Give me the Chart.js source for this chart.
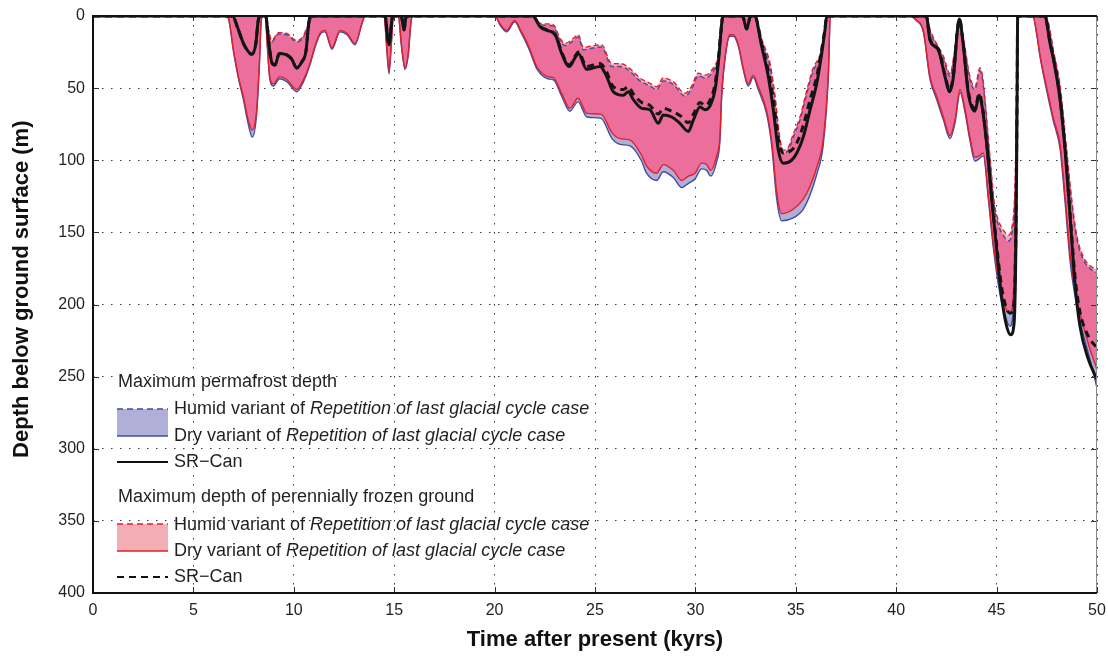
<!DOCTYPE html>
<html>
<head>
<meta charset="utf-8">
<script src="https://cdn.jsdelivr.net/npm/chart.js@4.4.1/dist/chart.umd.min.js"></script>
<style>
  html, body { margin: 0; padding: 0; background: #fff; }
  #wrap { width: 1108px; height: 660px; }
</style>
</head>
<body>
<div id="wrap"><canvas id="depthChart" width="1108" height="660"></canvas></div>
<script>
// time axis (kyrs) for the "dry" boundaries
const dryTime = [
  0, 6.6, 6.75, 7.0, 7.24, 7.49, 7.73, 7.93, 8.15, 8.28, 8.38, 8.46,
  8.58, 8.68, 8.8, 8.98, 9.3, 9.65, 10.15, 10.45, 10.8, 11.05, 11.35, 11.55, 11.9, 12.3, 12.65, 13.05, 13.4, 13.55,
  14.5, 14.62, 14.74, 14.86, 14.96, 15.2, 15.37, 15.54, 15.7, 15.83, 15.9,
  20.0, 20.3, 20.6, 21.0, 21.3, 21.7, 22.1, 22.65, 22.95, 23.35, 23.75, 24.15, 24.6, 25.3, 25.85,
  26.25, 26.75, 27.3, 27.57, 28.07, 28.4, 28.9, 29.32, 29.65, 29.98, 30.31, 30.56, 30.76, 31.06, 31.22,
  31.31, 31.52, 31.72, 31.89, 32.14, 32.38, 32.63, 32.88, 33.13, 33.55, 33.8, 34.05, 34.29, 34.87, 35.37,
  35.71, 36.04, 36.37, 36.62, 36.72,
  40.7, 41.0, 41.35, 41.68, 42.02, 42.35, 42.68, 42.93, 43.18, 43.43, 43.67, 43.92, 44.13, 44.34, 44.59,
  44.84, 45.17, 45.5, 45.67, 45.85, 45.95, 46.02, 46.08,
  46.8, 47.0, 47.16, 47.5, 47.83, 48.16, 48.41, 48.66, 48.99, 49.32, 49.65, 50
];
// perennially frozen ground, dry variant (m)
const frozenDry = [
  0, 0, 2, 24, 42, 56, 72, 79, 65, 35, 3, 0,
  0, 20, 42, 47, 42, 44, 51, 45, 33, 21, 11, 10, 22, 10, 12, 19, 5, 0,
  0, 20, 38, 18, 0, 0, 21, 36, 26, 5, 0,
  0, 6, 10, 3, 10, 21, 35, 42, 43, 54, 64, 57, 67.5, 68, 81,
  85, 86, 96, 104, 109, 103, 107, 114, 111, 109, 102, 103, 107, 97, 84,
  54, 24, 13, 13, 20, 36, 47, 41, 49, 66, 87, 122, 137, 134, 127,
  118, 105, 85, 40, 0,
  0, 3, 10, 42, 56, 70, 83, 72, 51, 65, 84, 98, 97, 95, 125,
  158, 188, 204, 206, 190, 120, 40, 0,
  0, 12, 27, 50, 71, 89, 125, 165, 196, 215, 231, 245
];
// permafrost, dry variant (m)
const permaDry = [
  0, 0, 2, 25, 43, 58, 75, 84, 68, 36, 3, 0,
  0, 21, 43, 48.5, 43.5, 45.5, 52.5, 46.5, 34, 22, 12, 11, 23, 11, 13, 20, 5, 0,
  0, 21, 40, 19, 0, 0, 22, 37, 27, 5, 0,
  0, 7, 11, 4, 11, 22.5, 36.5, 43.5, 44.5, 56, 66, 59.5, 70, 71, 85,
  89, 90, 100, 109, 114, 108, 112, 119, 116, 113, 106, 107, 111, 101, 87,
  56, 25, 14, 14, 21, 37, 48.5, 42.5, 51, 68, 90, 127, 142, 140, 134,
  124, 110, 89, 42, 0,
  0, 3, 11, 43.5, 58, 72, 85, 74, 53, 67, 86, 100.5, 99, 97, 127,
  161, 193, 211, 215, 199, 126, 42, 0,
  0, 13, 28, 52, 73, 92, 129, 170, 201, 221, 238, 258
];

// time axis (kyrs) for the "humid" boundaries
const humidTime = [
  0, 8.62, 8.75, 8.9, 9.23, 9.65, 10.14, 10.47, 10.64, 10.81, 10.9,
  21.9, 22.26, 22.6, 22.92, 23.26, 23.5, 23.8, 24.17, 24.42, 24.75, 25.33, 25.83, 26.25, 26.5,
  26.91, 27.24, 27.74, 28.07, 28.4, 28.9, 29.48, 29.8, 30.14, 30.5, 30.89, 31.14, 31.31, 31.39,
  32.95, 33.1, 33.38, 33.72, 33.96, 34.21, 34.38, 34.63, 34.87, 35.21, 35.54, 35.87, 36.2, 36.45, 36.57,
  41.5, 41.7, 41.93, 42.35, 42.68, 42.9, 43.13, 43.33, 43.67, 43.92, 44.17, 44.3, 44.64, 44.89, 45.07,
  45.42, 45.58, 45.77, 45.93, 46.0, 46.05,
  47.45, 47.6, 47.83, 48.16, 48.49, 48.74, 48.99, 49.32, 49.65, 50
];
const frozenHumid = [
  0, 0, 10, 17, 11.5, 12, 17, 14, 8.5, 4, 0,
  0, 5, 5.5, 6, 15.5, 19, 17, 13, 22, 21, 20, 33, 33, 34,
  38.6, 43, 46.7, 49, 43, 45.5, 53.6, 49, 39.7, 41, 36, 28, 10, 0,
  0, 8, 19, 33, 55, 85, 93, 91, 82, 70, 52, 36, 27, 11, 0,
  0, 10, 17, 28, 40, 25, 3, 14, 42, 49, 36, 42, 93, 130, 141,
  150, 152, 146, 111, 50, 0,
  0, 6, 24, 48, 93, 127, 152, 167, 173, 176
];
const permaHumid = [
  0, 0, 11, 18, 12.5, 13, 18, 15, 9.5, 4.5, 0,
  0, 5.5, 6.5, 7, 17, 20.5, 18.5, 14.5, 23.5, 22.5, 21.5, 35, 35, 36,
  40.5, 45, 48.5, 51, 45, 47.5, 55.5, 51, 41.5, 43, 38, 30, 11, 0,
  0, 9, 20.5, 35, 57, 87, 95, 93, 84, 72, 54, 38, 28.5, 12, 0,
  0, 11, 18.5, 30, 42, 27, 3, 15.5, 44, 51, 38, 44, 95, 133, 144,
  154, 156, 150, 114, 52, 0,
  0, 7, 25, 49.5, 95, 129, 154, 169, 175, 178
];

// SR-Can reference case
const srTime = [
  0, 6.95, 7.2, 7.49, 7.7, 7.9, 8.1, 8.23, 8.32,
  8.6, 8.75, 8.9, 9.06, 9.28, 9.65, 9.9, 10.14, 10.39, 10.61, 10.72, 10.8,
  14.55, 14.65, 14.74, 14.83, 14.92, 15.35, 15.49, 15.6,
  21.9, 22.26, 22.6, 22.84, 23.05, 23.34, 23.72, 24.0, 24.17, 24.59, 25.25, 25.55, 25.91, 26.41, 26.66,
  26.91, 27.33, 27.74, 28.15, 28.4, 28.82, 29.23, 29.65, 29.9, 30.23, 30.48, 30.7, 30.98, 31.14, 31.31, 31.36,
  32.35, 32.55, 32.75, 32.95, 33.3, 33.63, 33.88, 34.13, 34.38, 34.79, 35.05, 35.37, 35.71, 36.04, 36.29, 36.45, 36.54,
  41.5, 41.68, 42.1, 42.43, 42.65, 42.85, 43.05, 43.15, 43.33, 43.59, 43.92, 44.13, 44.25, 44.5, 44.74,
  44.99, 45.25, 45.5, 45.7, 45.87, 45.97, 46.02, 46.05,
  47.4, 47.66, 47.83, 48.16, 48.41, 48.66, 48.9, 49.15, 49.57, 50
];
const srPerma = [
  0, 0, 8, 19, 24, 26.6, 20, 3, 0,
  0, 18, 32, 34, 26, 27, 30, 36, 32, 24, 8, 0,
  0, 12, 20, 10, 0, 0, 9.7, 0,
  0, 7.4, 10, 11, 14, 26, 35, 29, 26, 37, 35, 41, 52.5, 55, 52.5,
  58, 64, 65, 74.4, 68.6, 70, 74.4, 80, 72, 63, 65, 63, 51, 33, 5, 0,
  0, 9, 0, 0, 21, 42, 65, 93, 102, 100, 95, 84, 65, 47, 26, 10, 0,
  0, 16.6, 23.6, 42, 52.5, 42, 9.7, 2, 19, 53.6, 66, 55, 60.5, 88, 125,
  160, 195, 215, 221, 213, 150, 60, 0,
  0, 19, 30, 58, 93, 139, 185, 215, 238, 252
];
const srFrozen = [
  0, 0, 8, 19, 24, 26.6, 20, 3, 0,
  0, 18, 32, 34, 26, 27, 30, 36, 32, 24, 8, 0,
  0, 12, 20, 10, 0, 0, 9.7, 0,
  0, 7, 9.5, 10.5, 13.5, 25, 34, 28, 25, 35, 33, 38, 49, 51, 49,
  54, 60, 62, 68, 64, 66, 69, 74, 68, 60, 62, 59, 47, 30, 5, 0,
  0, 9, 0, 0, 19, 38, 58, 85, 95, 93, 88, 76, 58, 42, 23, 9, 0,
  0, 16, 23, 41, 51, 41, 9, 2, 18, 52, 64, 54, 59, 87, 123,
  157, 188, 203, 206, 198, 140, 55, 0,
  0, 18, 29, 57, 92, 137, 180, 205, 222, 230
];

const xTicks = [0, 5, 10, 15, 20, 25, 30, 35, 40, 45, 50];
const yTicks = [0, 50, 100, 150, 200, 250, 300, 350, 400];

const FONT = '"Liberation Sans", Arial, Helvetica, sans-serif';
const TEXT = '#231f20';
const BLUE = '#3f4ea3';
const RED = '#e0202b';
const LAVENDER = '#b1aed8';
const LIGHTPINK = '#f4aeb5';
const HOTPINK = '#ec6f9b';

function pts(times, depths) {
    return times.map((t, i) => ({ x: t, y: depths[i] }));
}

// frame with inward tick marks, like the original axes box
const framePlugin = {
    id: 'frame',
    afterDatasetsDraw(chart) {
        const { ctx, chartArea: a, scales } = chart;
        ctx.save();
        ctx.strokeStyle = '#333';
        ctx.lineWidth = 1;
        xTicks.forEach(v => {
            const px = Math.round(scales.x.getPixelForValue(v)) + 0.5;
            ctx.beginPath();
            ctx.moveTo(px, a.bottom); ctx.lineTo(px, a.bottom - 6);
            ctx.moveTo(px, a.top); ctx.lineTo(px, a.top + 5);
            ctx.stroke();
        });
        yTicks.forEach(v => {
            const py = Math.round(scales.y.getPixelForValue(v)) + 0.5;
            ctx.beginPath();
            ctx.moveTo(a.left, py); ctx.lineTo(a.left + 6, py);
            ctx.moveTo(a.right, py); ctx.lineTo(a.right - 6, py);
            ctx.stroke();
        });
        ctx.strokeStyle = '#888';
        ctx.beginPath();
        ctx.moveTo(a.right - 0.5, a.top); ctx.lineTo(a.right - 0.5, a.bottom);
        ctx.stroke();
        ctx.strokeStyle = '#111';
        ctx.lineWidth = 2;
        ctx.beginPath();
        ctx.moveTo(a.right, a.top); ctx.lineTo(a.left, a.top);
        ctx.lineTo(a.left, a.bottom);
        ctx.lineTo(a.right, a.bottom);
        ctx.stroke();
        ctx.restore();
    }
};

// grouped legend drawn inside the plot, lower left
const legendPlugin = {
    id: 'groupLegend',
    afterDraw(chart) {
        const ctx = chart.ctx;
        const sx = chart.chartArea.left + 24;
        const sw = 51;
        const tx = sx + sw + 6;
        const normal = '18px ' + FONT;
        const italic = 'italic 18px ' + FONT;

        function label(y, plain, ital) {
            ctx.font = normal;
            ctx.fillText(plain, tx, y);
            if (ital) {
                const w = ctx.measureText(plain).width;
                ctx.font = italic;
                ctx.fillText(ital, tx + w, y);
            }
        }
        function swatch(top, bottom, fillCol, lineCol) {
            ctx.fillStyle = fillCol;
            ctx.fillRect(sx, top, sw, bottom - top);
            ctx.strokeStyle = lineCol;
            ctx.lineWidth = 1.5;
            ctx.setLineDash([6, 4]);
            ctx.beginPath(); ctx.moveTo(sx, top); ctx.lineTo(sx + sw, top); ctx.stroke();
            ctx.setLineDash([]);
            ctx.beginPath(); ctx.moveTo(sx, bottom); ctx.lineTo(sx + sw, bottom); ctx.stroke();
            ctx.fillStyle = TEXT;
        }
        function line(y, dash) {
            ctx.strokeStyle = '#111';
            ctx.lineWidth = 2;
            ctx.setLineDash(dash);
            ctx.beginPath(); ctx.moveTo(sx, y); ctx.lineTo(sx + sw, y); ctx.stroke();
            ctx.setLineDash([]);
        }

        ctx.save();
        ctx.textBaseline = 'middle';
        ctx.textAlign = 'left';
        ctx.fillStyle = TEXT;
        ctx.font = normal;
        ctx.fillText('Maximum permafrost depth', sx + 1, 382);
        swatch(409, 436, LAVENDER, BLUE);
        label(409, 'Humid variant of ', 'Repetition of last glacial cycle case');
        label(436, 'Dry variant of ', 'Repetition of last glacial cycle case');
        line(462, []);
        label(462, 'SR\u2212Can');

        ctx.font = normal;
        ctx.fillText('Maximum depth of perennially frozen ground', sx + 1, 497);
        swatch(524, 551, LIGHTPINK, RED);
        label(525, 'Humid variant of ', 'Repetition of last glacial cycle case');
        label(551, 'Dry variant of ', 'Repetition of last glacial cycle case');
        line(577, [7, 5]);
        label(577, 'SR\u2212Can');
        ctx.restore();
    }
};

const lineBase = {
    pointRadius: 0,
    pointHoverRadius: 0,
    cubicInterpolationMode: 'monotone',
    borderJoinStyle: 'round'
};

// index 0 is drawn on top; fills of later datasets go underneath
const datasets = [
    { ...lineBase, label: 'SR-Can permafrost', data: pts(srTime, srPerma), borderColor: '#141414', borderWidth: 3, fill: false },
    { ...lineBase, label: 'SR-Can frozen ground', data: pts(srTime, srFrozen), borderColor: '#141414', borderWidth: 3, borderDash: [7, 5], fill: false },
    { ...lineBase, label: 'overlap', data: pts(humidTime, permaHumid), borderColor: 'rgba(0,0,0,0)', borderWidth: 0, fill: 4, backgroundColor: HOTPINK },
    { ...lineBase, label: 'Frozen humid', data: pts(humidTime, frozenHumid), borderColor: RED, borderWidth: 1.4, borderDash: [5, 3], fill: 4, backgroundColor: LIGHTPINK },
    { ...lineBase, label: 'Frozen dry', data: pts(dryTime, frozenDry), borderColor: RED, borderWidth: 1.4, fill: false },
    { ...lineBase, label: 'Permafrost humid', data: pts(humidTime, permaHumid), borderColor: BLUE, borderWidth: 1.4, borderDash: [5, 3], fill: 6, backgroundColor: LAVENDER },
    { ...lineBase, label: 'Permafrost dry', data: pts(dryTime, permaDry), borderColor: BLUE, borderWidth: 1.4, fill: false }
];

const tickFont = { family: FONT, size: 16 };
const titleFont = { family: FONT, size: 22, weight: 'bold' };

new Chart(document.getElementById('depthChart').getContext('2d'), {
    type: 'line',
    data: { datasets: datasets },
    options: {
        responsive: false,
        animation: false,
        devicePixelRatio: 1,
        layout: { padding: { left: 0, right: 11, top: 16, bottom: 0 } },
        plugins: {
            legend: { display: false },
            tooltip: { enabled: false },
            filler: { drawTime: 'beforeDatasetsDraw' }
        },
        scales: {
            x: {
                type: 'linear',
                min: 0,
                max: 50,
                afterBuildTicks: (scale) => { scale.ticks = xTicks.map(v => ({ value: v })); },
                ticks: { color: TEXT, font: tickFont, padding: 8, maxRotation: 0 },
                grid: { color: '#3a3a3a', lineWidth: 1, drawTicks: false },
                border: { display: false, dash: [1.5, 7.5] },
                title: { display: true, text: 'Time after present (kyrs)', color: '#111', font: titleFont, padding: { top: 0, bottom: 7 } },
                afterFit: (scale) => {
                    scale.height = 67;
                    scale.paddingLeft = 0;
                    scale.paddingRight = 0;
                }
            },
            y: {
                type: 'linear',
                min: 0,
                max: 400,
                reverse: true,
                afterBuildTicks: (scale) => { scale.ticks = yTicks.map(v => ({ value: v })); },
                ticks: { color: TEXT, font: tickFont, padding: 8 },
                grid: { color: '#3a3a3a', lineWidth: 1, drawTicks: false },
                border: { display: false, dash: [1.5, 7.5] },
                title: { display: true, text: '     Depth below ground surface (m)', color: '#111', font: titleFont, padding: { top: 9, bottom: 0 } },
                afterFit: (scale) => {
                    scale.width = 93;
                    scale.paddingTop = 0;
                    scale.paddingBottom = 0;
                }
            }
        }
    },
    plugins: [framePlugin, legendPlugin]
});
</script>
</body>
</html>
